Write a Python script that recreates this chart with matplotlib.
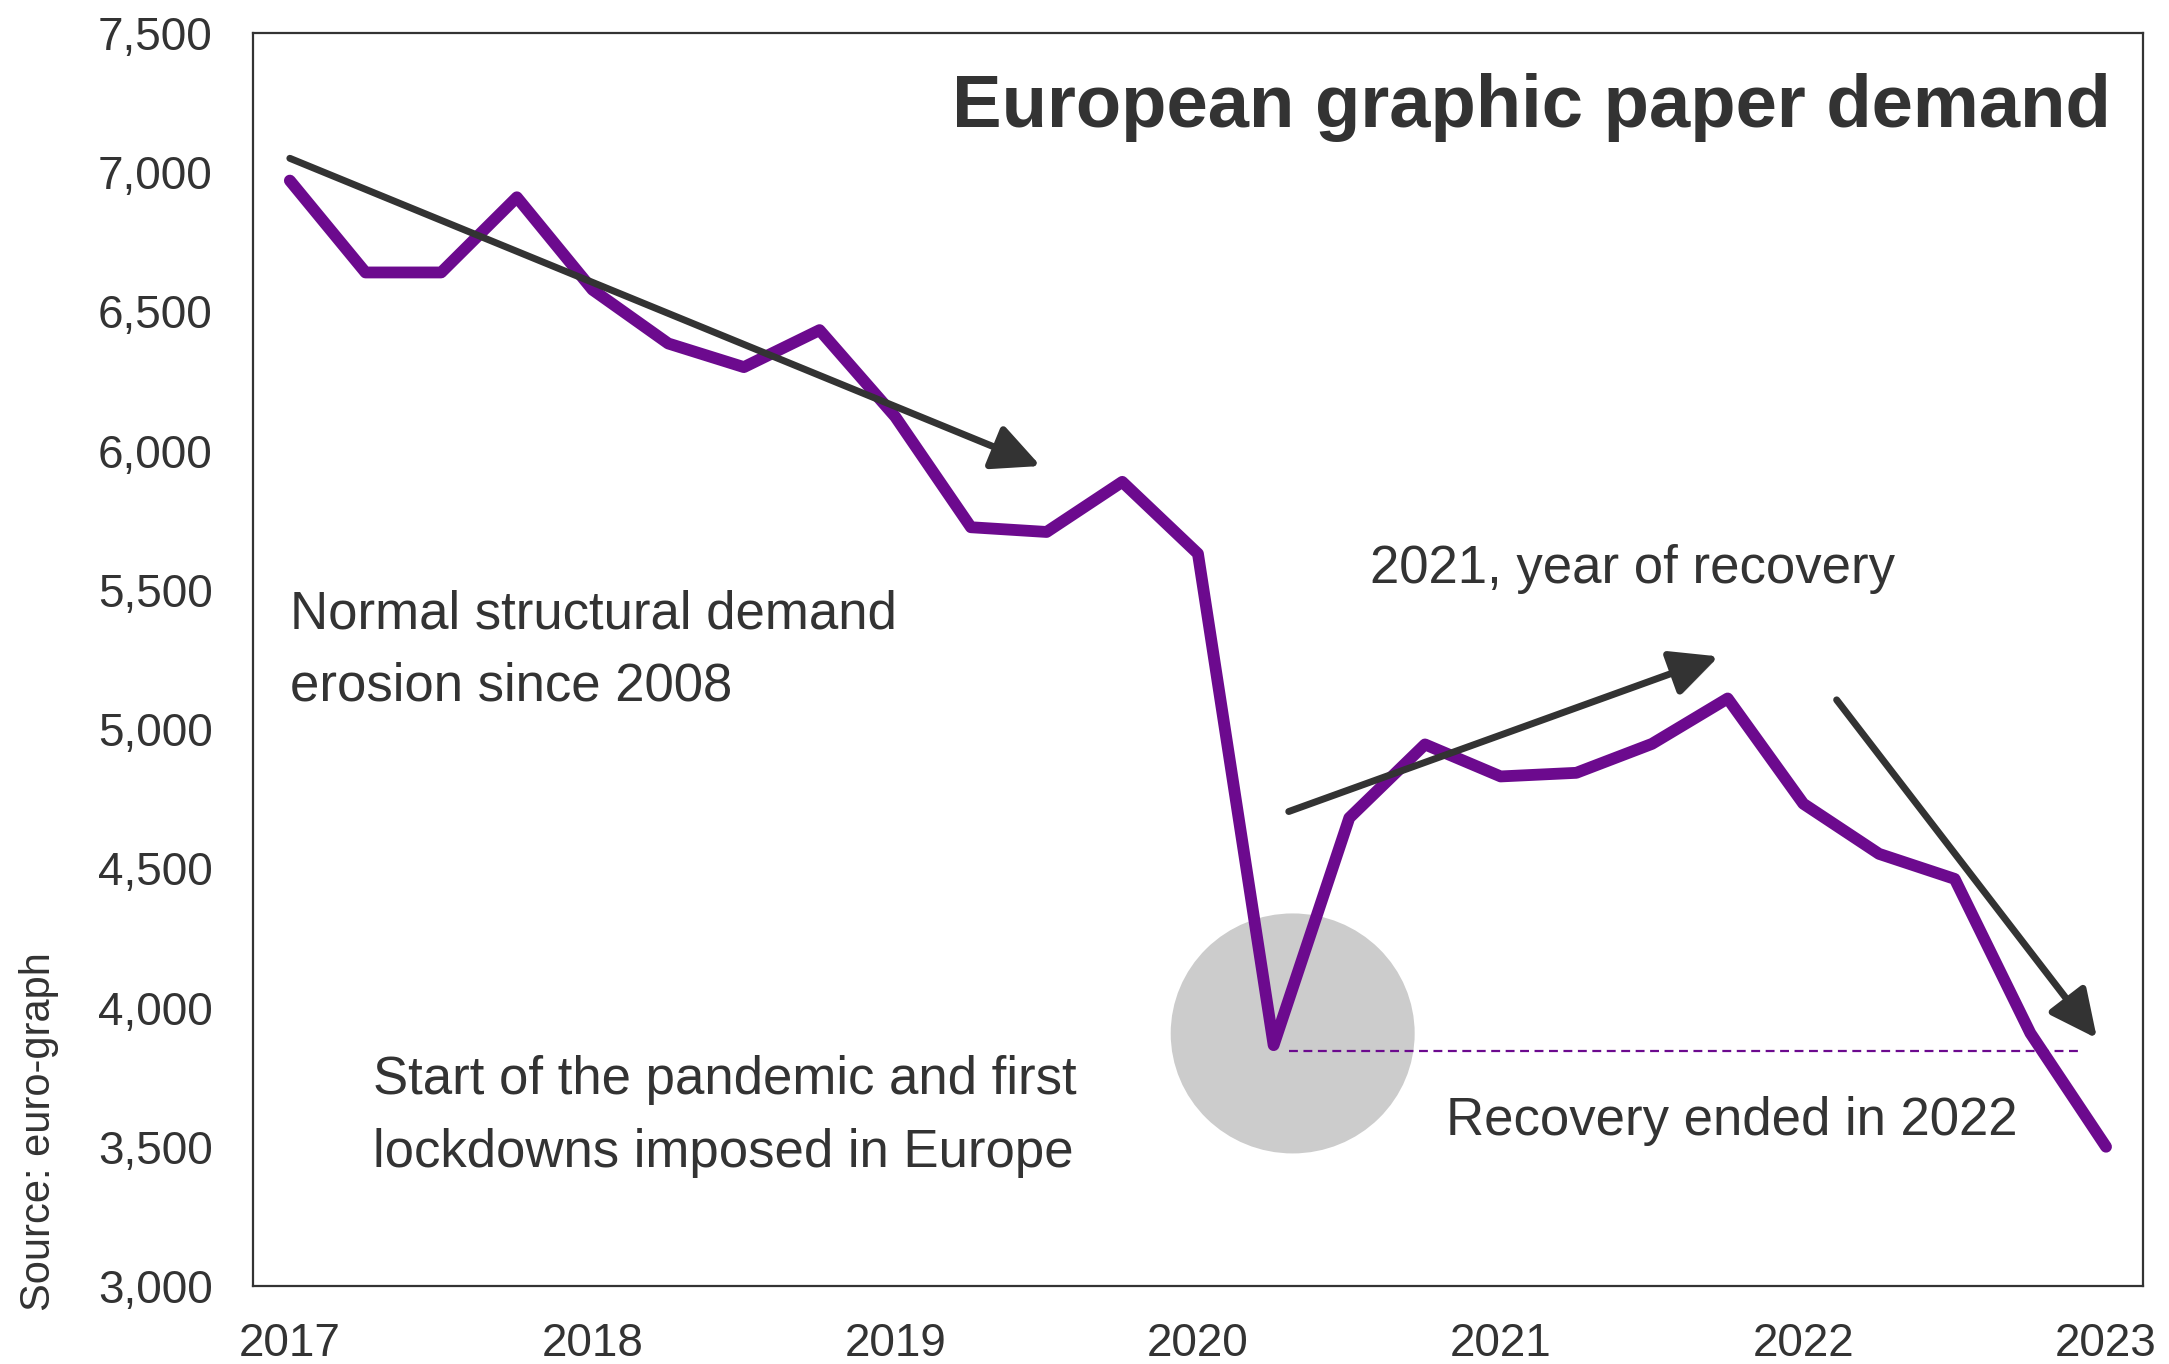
import numpy as np
import matplotlib.pyplot as plt
from matplotlib.patches import Ellipse
from matplotlib.ticker import FuncFormatter
import matplotlib.patheffects as pe

plt.rcParams['font.family'] = ['Liberation Sans', 'DejaVu Sans']

# Quarterly demand, 2017 Q1 .. 2023 Q1
quarters = np.arange(25) / 4 + 2017
demand = [6970, 6640, 6640, 6910,
          6578, 6385, 6300, 6433,
          6122, 5725, 5708, 5888,
          5630, 3865, 4681, 4945,
          4830, 4843, 4947, 5110,
          4732, 4552, 4462, 3908,
          3500]
years = [2017, 2018, 2019, 2020, 2021, 2022, 2023]
yticks = [3000, 3500, 4000, 4500, 5000, 5500, 6000, 6500, 7000, 7500]

# pandemic low reference line
low_level = 3845
low_span = (2020.30, 2022.92)

# trend arrows: (start, end)
trend_arrows = [((2017.0, 7050), (2019.48, 5945)),
                ((2020.30, 4704), (2021.72, 5261)),
                ((2022.11, 5105), (2022.97, 3889))]

purple = '#6C0A8E'
dark = '#333333'

fig = plt.figure(figsize=(21.69, 13.64), dpi=100)
ax = fig.add_axes([0.1166, 0.0572, 0.8714, 0.9186])

# grey marker around the lockdown trough
ax.add_patch(Ellipse((2020.313, 3907), 0.806, 862, color='#CCCCCC', lw=0, zorder=1))

ax.hlines(low_level, *low_span, colors=purple, linestyles=(0, (4, 2.5)), lw=1.6, zorder=2)
ax.plot(quarters, demand, color=purple, lw=8.5, solid_joinstyle='round',
        solid_capstyle='round', zorder=3)

for start, end in trend_arrows:
    ann = ax.annotate('', xy=end, xytext=start,
                      arrowprops=dict(arrowstyle='-|>,head_length=2.9,head_width=1.4',
                                      mutation_scale=10, lw=5, color=dark,
                                      shrinkA=0, shrinkB=0))
    ann.arrow_patch.set_path_effects([pe.SimplePatchShadow(offset=(2, -2), alpha=0.2),
                                      pe.Normal()])
    ann.set_zorder(4)

ax.set_xlim(2016.878, 2023.122)
ax.set_ylim(3000, 7500)
ax.set_xticks(years)
ax.set_yticks(yticks)
ax.yaxis.set_major_formatter(FuncFormatter(lambda v, p: f'{int(v):,}'))
ax.tick_params(length=0, labelsize=33, colors=dark, pad=29)
ax.tick_params(axis='x', pad=26)
for s in ax.spines.values():
    s.set_color(dark)
    s.set_linewidth(1.6)

ax.text(2023.016, 7162, 'European graphic paper demand', ha='right', va='baseline',
        fontsize=53.5, fontweight='bold', color=dark)
ax.text(2017.0, 5101, 'Normal structural demand\nerosion since 2008', ha='left',
        va='baseline', fontsize=38, color=dark, linespacing=1.58)
ax.text(2020.568, 5525, '2021, year of recovery', ha='left', va='baseline',
        fontsize=38, color=dark)
ax.text(2017.274, 3427, 'Start of the pandemic and first\nlockdowns imposed in Europe',
        ha='left', va='baseline', fontsize=38, color=dark, linespacing=1.58)
ax.text(2020.819, 3542, 'Recovery ended in 2022', ha='left', va='baseline',
        fontsize=38, color=dark)

fig.text(0.018, 0.0389, 'Source: euro-graph', rotation=90, ha='center', va='bottom',
         fontsize=30, color=dark)

fig.savefig('out.png', dpi=100)
